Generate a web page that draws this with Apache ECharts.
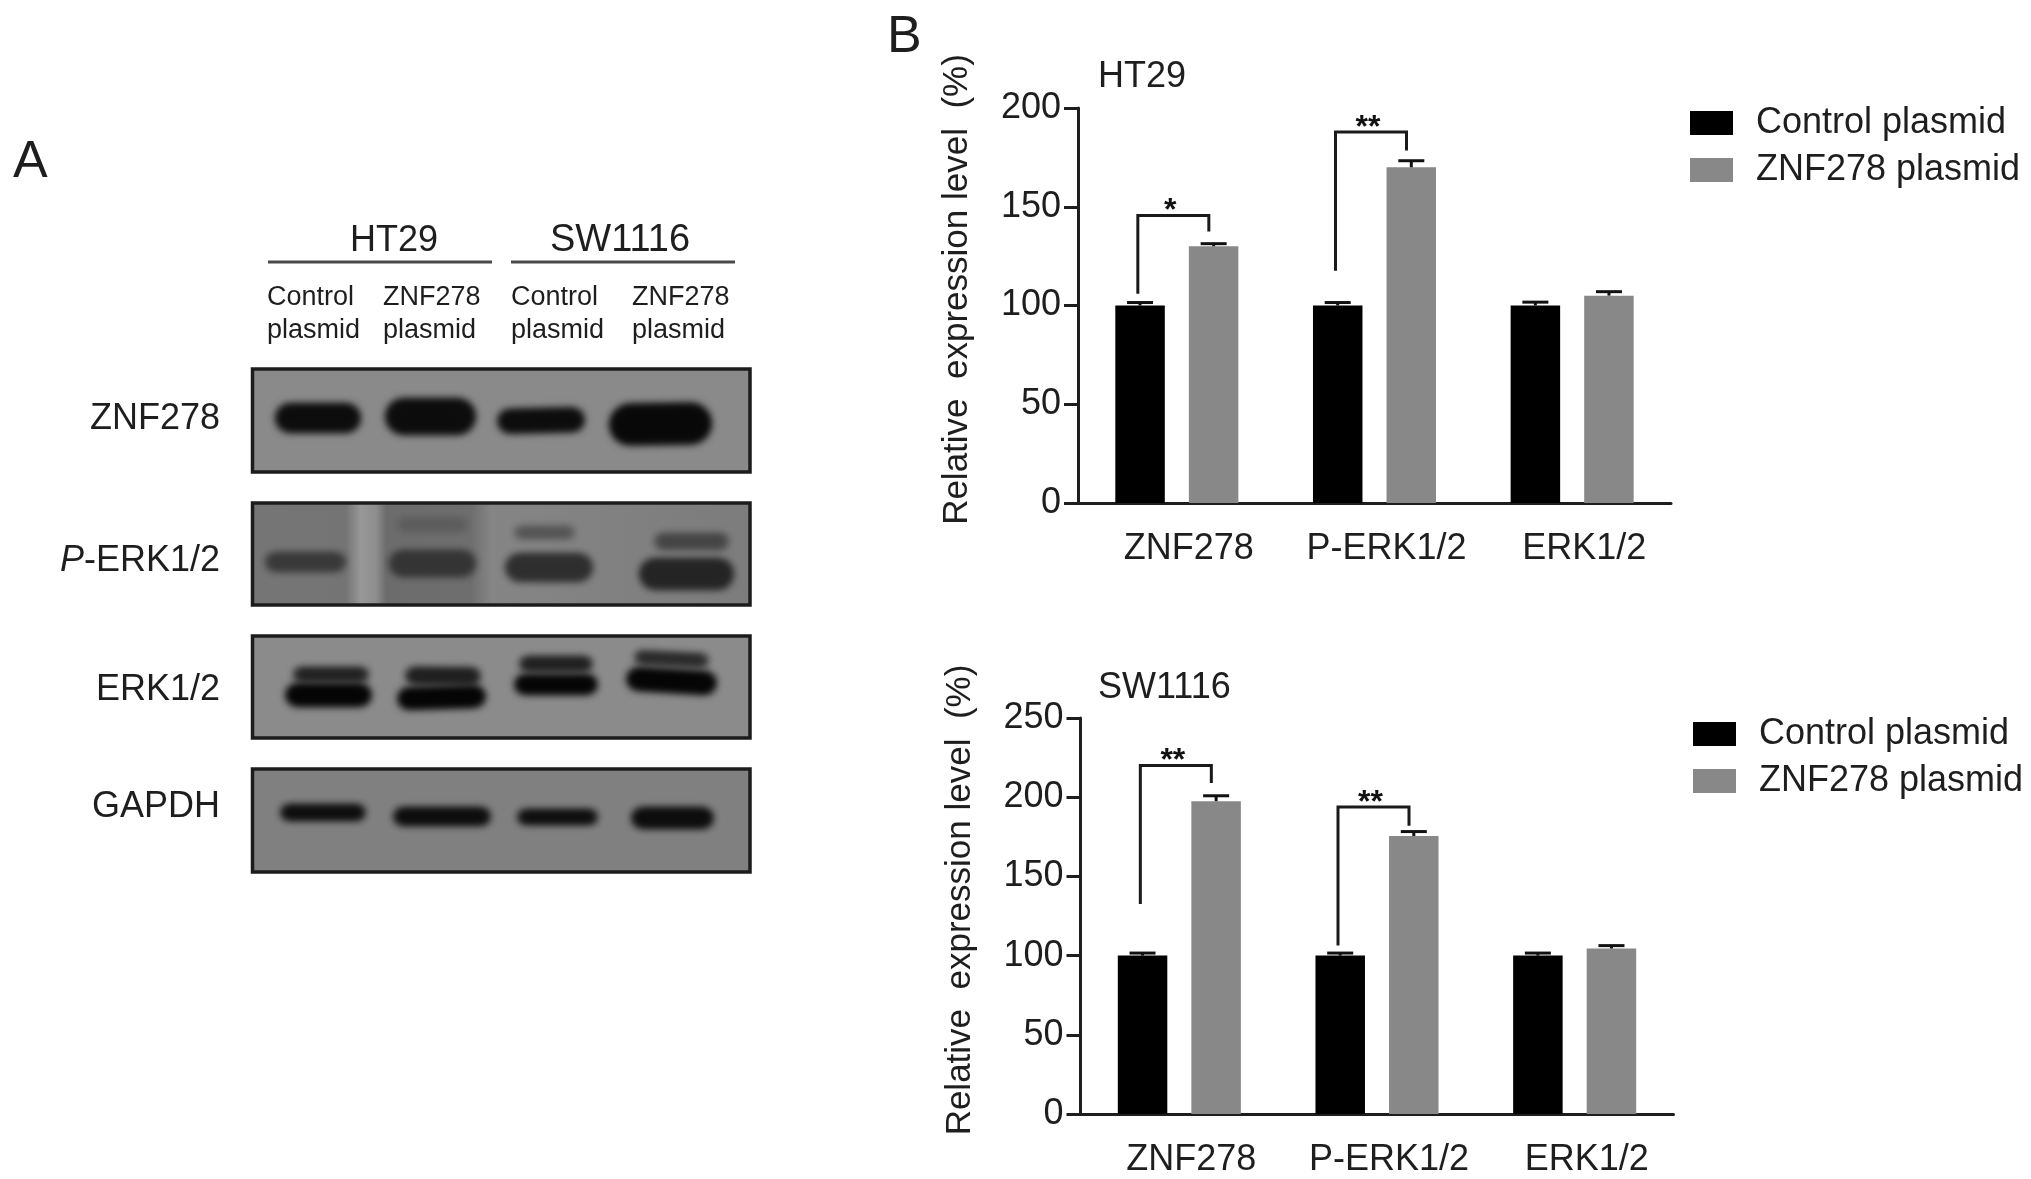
<!DOCTYPE html>
<html>
<head>
<meta charset="utf-8">
<style>html,body{margin:0;padding:0;background:#fff}#c{width:2031px;height:1179px}</style>
<script src="https://cdn.jsdelivr.net/npm/echarts@6/dist/echarts.min.js"></script>
</head>
<body>
<div id="c"></div>
<script>
// ---------- chart values ----------
const categories = ['ZNF278', 'P-ERK1/2', 'ERK1/2'];
const seriesNames = ['Control plasmid', 'ZNF278 plasmid'];
const ht29Control = [100, 100, 100];
const ht29Znf278 = [130, 170, 105];
const ht29ControlErr = [1.5, 1.5, 1.7];
const ht29Znf278Err = [1.3, 3.3, 2];
const sw1116Control = [100, 100, 100];
const sw1116Znf278 = [197.5, 175.5, 104.5];
const sw1116ControlErr = [1.6, 1.6, 1.6];
const sw1116Znf278Err = [3.4, 2.8, 1.8];
// significance brackets: category, left leg foot, top, right leg foot, mark
const ht29Brackets = [[0, 106, 145.6, 137.5, '*'], [1, 117.6, 187.8, 178.5, '**']];
const sw1116Brackets = [[0, 132.6, 220, 209, '**'], [1, 106.3, 193.8, 182, '**']];

// ---------- western blot picture (panel A), in gel units ----------
const blotFrames = [
  [252.5, 369, 750, 472, 0], [252.5, 503, 750, 605, 1], [252.5, 636, 750, 738, 2], [252.5, 769, 750, 872, 3]
];
const blotBackgrounds = ['#8a8a8a', '#7c7c7c', '#8b8b8b', '#808080'];
// x0, y0, x1, y1, colour, tilt
const blotBands = [
  [276, 405, 360, 431, '#0c0c0c', 0], [386, 400, 475, 433, '#0c0c0c', 0], [498, 410, 584, 431, '#0c0c0c', 0.02], [610, 405, 711, 443, '#080808', 0.02],
  [398, 519, 467, 530, '#5c5c5c', 0], [515, 528, 574, 537, '#525252', 0], [655, 535, 728, 548, '#444444', 0],
  [266, 554, 345, 570, '#383838', 0], [390, 552, 475, 575, '#343434', 0], [506, 555, 592, 580, '#2e2e2e', 0], [640, 560, 733, 588, '#242424', 0],
  [294, 669, 368, 680, '#1e1e1e', 0], [406, 669, 480, 683, '#1e1e1e', -0.01], [520, 658, 592, 670, '#1e1e1e', 0], [635, 654, 708, 664, '#262626', -0.05],
  [286, 685, 371, 705, '#040404', 0], [398, 688, 485, 707, '#040404', 0.03], [515, 676, 597, 693, '#040404', 0], [627, 671, 716, 691, '#040404', -0.06],
  [281, 806, 365, 819, '#0c0c0c', 0], [394, 809, 490, 824, '#0c0c0c', 0], [518, 811, 597, 823, '#0c0c0c', 0], [632, 809, 713, 827, '#0c0c0c', 0]
];
const blotRowLabels = ['ZNF278', '{i|P}-ERK1/2', 'ERK1/2', 'GAPDH'];
const blotCellLines = ['HT29', 'SW1116'];
const blotLanes = ['Control\nplasmid', 'ZNF278\nplasmid', 'Control\nplasmid', 'ZNF278\nplasmid'];

// ---------- styling ----------
const FONT = '"Liberation Sans", Arial, sans-serif';
const INK = '#1e1e1e';
const BAR_BLACK = '#000000';
const BAR_GRAY = '#888888';
const BAR_W = 49.5;
const BAR_OFFSET = 36.8;
const BRACKET_L = 39;
const BRACKET_R = 32;
const OFFSCREEN = 3000;

function errSeries(vals, errs, sign, gridIdx) {
  return {
    type: 'custom', xAxisIndex: gridIdx, yAxisIndex: gridIdx, z: 3, silent: true,
    encode: { x: 0, y: [1, 2] },
    data: vals.map((v, i) => [i, v, v + errs[i]]),
    renderItem(params, api) {
      const b = api.coord([api.value(0), api.value(1)]);
      const t = api.coord([api.value(0), api.value(2)]);
      const x = b[0] + sign * BAR_OFFSET;
      const st = { stroke: '#111', lineWidth: 3 };
      return { type: 'group', children: [
        { type: 'line', shape: { x1: x, y1: b[1], x2: x, y2: t[1] }, style: st },
        { type: 'line', shape: { x1: x - 13, y1: t[1], x2: x + 13, y2: t[1] }, style: st }
      ] };
    }
  };
}
function bracketSeries(items, gridIdx) {
  return {
    type: 'custom', xAxisIndex: gridIdx, yAxisIndex: gridIdx, z: 4, silent: true,
    encode: { x: 0, y: [1, 2, 3] },
    data: items,
    renderItem(params, api) {
      const c = api.value(0);
      const lb = api.coord([c, api.value(1)]);
      const tp = api.coord([c, api.value(2)]);
      const rb = api.coord([c, api.value(3)]);
      const xl = lb[0] - BRACKET_L, xr = lb[0] + BRACKET_R;
      return { type: 'group', children: [
        { type: 'polyline', shape: { points: [[xl, lb[1]], [xl, tp[1]], [xr, tp[1]], [xr, rb[1]]] },
          style: { stroke: '#1a1a1a', lineWidth: 3, fill: null } },
        { type: 'text', x: (xl + xr) / 2 - 3, y: tp[1] + 12,
          style: { text: items[params.dataIndex][4], font: 'bold 32px ' + FONT, fill: '#111', textAlign: 'center', textVerticalAlign: 'bottom' } }
      ] };
    }
  };
}
function barSeries(name, data, color, gridIdx) {
  return { name, type: 'bar', xAxisIndex: gridIdx, yAxisIndex: gridIdx, data, barWidth: BAR_W, barGap: '48.6%',
    itemStyle: { color }, silent: true, z: 2 };
}
function xAxisFor(gridIdx) {
  return { gridIndex: gridIdx, type: 'category', data: categories,
    axisLine: { lineStyle: { color: INK, width: 3 } },
    axisTick: { alignWithLabel: true, length: 15, lineStyle: { color: INK, width: 3 } },
    axisLabel: { color: INK, fontFamily: FONT, fontSize: 36, margin: 28, interval: 0, padding: [0, 0, 0, 24] } };
}
function yAxisFor(gridIdx, max) {
  return { gridIndex: gridIdx, type: 'value', min: 0, max, interval: 50,
    name: 'Relative  expression level  (%)', nameLocation: 'middle', nameRotate: 90, nameGap: 103,
    nameTextStyle: { color: INK, fontFamily: FONT, fontSize: 35, padding: [0, 0, 0, 32] },
    splitLine: { show: false },
    axisLine: { show: true, lineStyle: { color: INK, width: 3 } },
    axisTick: { show: true, length: 14, lineStyle: { color: INK, width: 3 } },
    axisLabel: { color: INK, fontFamily: FONT, fontSize: 36, margin: 17 } };
}
function legendAt(left, top) {
  return { left, top, padding: 0, orient: 'vertical', itemWidth: 43, itemHeight: 24, itemGap: 11, icon: 'rect',
    selectedMode: false, data: seriesNames,
    textStyle: { color: INK, fontFamily: FONT, fontSize: 36, padding: [0, 0, 0, 18] } };
}
function txt(text, x, y, size, align, extra) {
  return Object.assign({ type: 'text', x, y, silent: true, style: {
    text, font: size + 'px ' + FONT, fill: INK, textAlign: align || 'left', textVerticalAlign: 'middle' } }, extra || {});
}
const laneX = [267, 383, 511, 632];
const rowY = [419, 561, 690, 807];

const blotGrid = 2;
const graphics = [
  txt('A', 13, 163, 52), txt('B', 887, 38, 52),
  txt('HT29', 1098, 77, 36), txt('SW1116', 1098, 688, 36),
  txt(blotCellLines[0], 394, 241, 36, 'center'), txt(blotCellLines[1], 620, 241, 38, 'center'),
  { type: 'line', silent: true, shape: { x1: 268, y1: 262, x2: 492, y2: 262 }, style: { stroke: '#4a4a4a', lineWidth: 3 } },
  { type: 'line', silent: true, shape: { x1: 511, y1: 262, x2: 735, y2: 262 }, style: { stroke: '#4a4a4a', lineWidth: 3 } }
];
blotLanes.forEach((t, i) => {
  const [a, b] = t.split('\n');
  graphics.push(txt(a, laneX[i], 298, 27));
  graphics.push(txt(b, laneX[i], 331, 27));
});
blotRowLabels.forEach((t, i) => {
  const el = txt(t, 220, rowY[i], 36, 'right');
  el.style.rich = { i: { fontStyle: 'italic', font: 'italic 36px ' + FONT, fill: INK } };
  graphics.push(el);
});

const option = {
  backgroundColor: '#ffffff',
  animation: false,
  textStyle: { fontFamily: FONT },
  grid: [
    { left: 1078, top: 108, width: 593, height: 395 },
    { left: 1080.5, top: 718, width: 593, height: 396 },
    { left: 0, top: 0, width: 780, height: 880 }
  ],
  xAxis: [xAxisFor(0), xAxisFor(1), { gridIndex: 2, type: 'value', min: 0, max: 780, show: false }],
  yAxis: [yAxisFor(0, 200), yAxisFor(1, 250), { gridIndex: 2, type: 'value', min: 0, max: 880, inverse: true, show: false }],
  legend: [legendAt(1690, 105), legendAt(1693, 716)],
  graphic: graphics,
  series: [
    barSeries(seriesNames[0], ht29Control, BAR_BLACK, 0),
    barSeries(seriesNames[1], ht29Znf278, BAR_GRAY, 0),
    errSeries(ht29Control, ht29ControlErr, -1, 0),
    errSeries(ht29Znf278, ht29Znf278Err, 1, 0),
    bracketSeries(ht29Brackets, 0),
    barSeries(seriesNames[0], sw1116Control, BAR_BLACK, 1),
    barSeries(seriesNames[1], sw1116Znf278, BAR_GRAY, 1),
    errSeries(sw1116Control, sw1116ControlErr, -1, 1),
    errSeries(sw1116Znf278, sw1116Znf278Err, 1, 1),
    bracketSeries(sw1116Brackets, 1),
    { // blot frames
      type: 'custom', xAxisIndex: blotGrid, yAxisIndex: blotGrid, z: 1, silent: true, clip: false,
      encode: { x: [0, 2], y: [1, 3] }, data: blotFrames,
      renderItem(params, api) {
        const a = api.coord([api.value(0), api.value(1)]);
        const b = api.coord([api.value(2), api.value(3)]);
        const idx = api.value(4);
        let fill = blotBackgrounds[idx];
        if (idx === 1) {
          fill = new echarts.graphic.LinearGradient(0, 0, 1, 0, [
            { offset: 0, color: '#757575' }, { offset: 0.19, color: '#747474' }, { offset: 0.22, color: '#989898' },
            { offset: 0.25, color: '#8e8e8e' }, { offset: 0.27, color: '#6c6c6c' }, { offset: 0.44, color: '#6e6e6e' },
            { offset: 0.48, color: '#858585' }, { offset: 1, color: '#7c7c7c' }
          ]);
        }
        return { type: 'rect', shape: { x: a[0], y: a[1], width: b[0] - a[0], height: b[1] - a[1] },
          style: { fill, stroke: '#1c1c1c', lineWidth: 3.5 } };
      }
    },
    { // blot bands: only the blurred shadow of each shape is on the canvas
      type: 'custom', xAxisIndex: blotGrid, yAxisIndex: blotGrid, z: 2, silent: true, clip: false,
      encode: { x: [0, 2], y: [1, 3] }, data: blotBands,
      renderItem(params, api) {
        const a = api.coord([api.value(0), api.value(1)]);
        const b = api.coord([api.value(2), api.value(3)]);
        const color = blotBands[params.dataIndex][4];
        const tilt = blotBands[params.dataIndex][5];
        const w = b[0] - a[0] - 2, h = Math.max(6, b[1] - a[1]);
        const shape = { x: -w / 2, y: -h / 2, width: w, height: h, r: h / 2 };
        const layer = () => ({ type: 'rect', x: (a[0] + b[0]) / 2 - OFFSCREEN, y: (a[1] + b[1]) / 2, rotation: tilt, shape,
          style: { fill: color, shadowColor: color, shadowBlur: 9, shadowOffsetX: OFFSCREEN } });
        return { type: 'group', children: [layer(), layer()] };
      }
    }
  ]
};
const chart = echarts.init(document.getElementById('c'), null, { renderer: 'canvas', width: 2031, height: 1179 });
chart.setOption(option);
</script>
</body>
</html>
